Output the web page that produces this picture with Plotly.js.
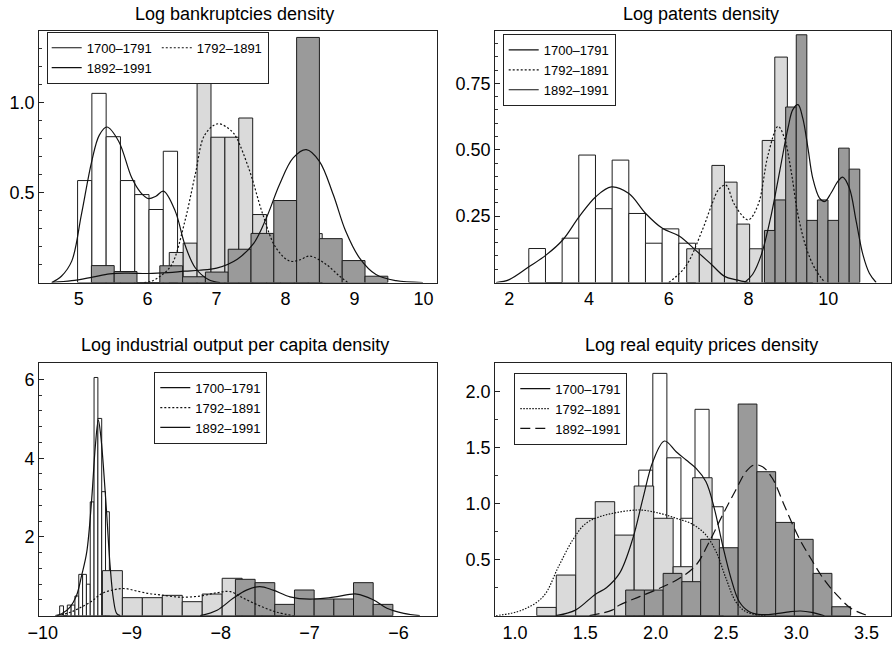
<!DOCTYPE html>
<html>
<head>
<meta charset="utf-8">
<script src="https://cdn.plot.ly/plotly-3.0.1.min.js"></script>
<style>html,body{margin:0;padding:0;background:#fff;}#chart{width:892px;height:647px;}</style>
</head>
<body>
<div id="chart"></div>
<script>
// ---------- data ----------
const seriesNames = ['1700\u20131791', '1792\u20131891', '1892\u20131991'];
const panelTitles = ['Log bankruptcies density', 'Log patents density',
  'Log industrial output per capita density', 'Log real equity prices density'];

// Panel 1: Log bankruptcies — histograms (bin start, bin width, density heights)
const bkStart1 = 4.985, bkWidth1 = 0.207;
const bkHeights1 = [0.567, 1.052, 0.811, 0.567, 0.489, 0.406, 0.730];
const bkStart2 = 6.314, bkWidth2 = 0.2015;
const bkHeights2 = [0.167, 0.219, 1.128, 0.808, 0.808, 0.915, 0.378, 0.2, 0.12, 0.1, 0.272];
const bkStart3 = 5.185, bkWidth3 = 0.3305;
const bkHeights3 = [0.094, 0.061, 0, 0.093, 0.032, 0.058, 0.185, 0.273, 0.456, 1.363, 0.244, 0.122, 0.035];
// Panel 1 density curves
const bkCurveX1 = [4.61, 4.75, 4.90, 5.04, 5.19, 5.30, 5.41, 5.58, 5.77, 5.90, 6.01, 6.12, 6.23, 6.40, 6.54, 6.69, 6.88, 7.05];
const bkCurveY1 = [0, 0.035, 0.119, 0.378, 0.674, 0.82, 0.865, 0.786, 0.582, 0.5, 0.467, 0.48, 0.508, 0.397, 0.211, 0.082, 0.017, 0];
const bkCurveX2 = [5.95, 6.06, 6.2, 6.35, 6.54, 6.69, 6.83, 7.02, 7.22, 7.29, 7.48, 7.67, 7.86, 8.06, 8.2, 8.35, 8.59, 8.78, 8.9];
const bkCurveY2 = [0, 0.008, 0.04, 0.1, 0.341, 0.6, 0.822, 0.883, 0.841, 0.804, 0.619, 0.378, 0.193, 0.119, 0.125, 0.147, 0.1, 0.036, 0];
const bkCurveX3 = [4.61, 4.9, 5.2, 5.45, 5.7, 6.01, 6.3, 6.54, 6.75, 7.0, 7.3, 7.54, 7.73, 7.91, 8.11, 8.30, 8.49, 8.69, 8.87, 9.07, 9.31, 9.6, 9.99];
const bkCurveY3 = [0, 0.01, 0.03, 0.048, 0.052, 0.05, 0.055, 0.063, 0.068, 0.08, 0.13, 0.219, 0.367, 0.544, 0.693, 0.739, 0.674, 0.489, 0.286, 0.137, 0.044, 0.01, 0];

// Panel 2: Log patents
const ptStart1 = 2.49, ptWidth1 = 0.418;
const ptHeights1 = [0.128, 0, 0.167, 0.48, 0.278, 0.461, 0.26, 0.148, 0.202, 0.148];
const ptStart2 = 6.45, ptWidth2 = 0.3155;
const ptHeights2 = [0.127, 0.127, 0.441, 0.378, 0.22, 0.127, 0.535, 0.849, 0.45, 0.13];
const ptStart3 = 8.40, ptWidth3 = 0.2655;
const ptHeights3 = [0.196, 0.311, 0.661, 0.933, 0.234, 0.311, 0.234, 0.506, 0.427];
const ptCurveX1 = [1.67, 2.0, 2.5, 2.92, 3.34, 3.75, 4.17, 4.56, 5.0, 5.42, 5.84, 6.26, 6.67, 7.09, 7.4, 7.7, 8.0];
const ptCurveY1 = [0, 0.011, 0.06, 0.103, 0.16, 0.247, 0.323, 0.36, 0.335, 0.26, 0.204, 0.175, 0.122, 0.065, 0.023, 0.01, 0];
const ptCurveX2 = [6.0, 6.42, 6.84, 7.09, 7.25, 7.43, 7.65, 7.99, 8.24, 8.49, 8.74, 8.90, 9.07, 9.24, 9.45, 9.66, 9.91];
const ptCurveY2 = [0, 0.06, 0.197, 0.298, 0.35, 0.367, 0.293, 0.236, 0.293, 0.481, 0.588, 0.544, 0.418, 0.255, 0.129, 0.054, 0];
const ptCurveX3 = [7.9, 8.1, 8.32, 8.57, 8.78, 8.99, 9.11, 9.24, 9.36, 9.49, 9.61, 9.78, 9.91, 10.07, 10.24, 10.36, 10.53, 10.70, 10.87, 11.03, 11.2];
const ptCurveY3 = [0, 0.03, 0.104, 0.255, 0.418, 0.582, 0.651, 0.67, 0.619, 0.506, 0.393, 0.318, 0.305, 0.337, 0.381, 0.397, 0.355, 0.23, 0.104, 0.035, 0];

// Panel 3: Log industrial output per capita
const ioStart1 = -9.811, ioWidth1 = 0.043;
const ioHeights1 = [0.25, 0, 0.27, 0.27, 0.5, 1.05, 1.05, 0.8, 2.89, 6.05, 5.01, 3.15, 2.64];
const ioStart2 = -9.33, ioWidth2 = 0.2245;
const ioHeights2 = [1.144, 0.458, 0.458, 0.517, 0.356, 0.55, 0.95, 0.45, 0.2];
const ioStart3 = -7.834, ioWidth3 = 0.2214;
const ioHeights3 = [0.924, 0.839, 0.288, 0.653, 0.424, 0.424, 0.839, 0.288];
const ioCurveX1 = [-9.86, -9.788, -9.694, -9.62, -9.563, -9.506, -9.45, -9.41, -9.376, -9.35, -9.32, -9.281, -9.244, -9.207, -9.169, -9.13];
const ioCurveY1 = [0, 0.05, 0.22, 0.52, 1.03, 1.62, 2.98, 4.3, 4.97, 4.6, 3.82, 2.55, 1.28, 0.43, 0.05, 0];
const ioCurveX2 = [-9.84, -9.7, -9.6, -9.45, -9.338, -9.2, -9.08, -8.95, -8.8, -8.68, -8.46, -8.23, -8.04, -7.89, -7.74, -7.56, -7.37, -7.18];
const ioCurveY2 = [0, 0.08, 0.18, 0.37, 0.56, 0.66, 0.69, 0.63, 0.56, 0.53, 0.47, 0.5, 0.585, 0.61, 0.44, 0.25, 0.09, 0];
const ioCurveX3 = [-8.23, -8.04, -7.86, -7.71, -7.56, -7.41, -7.22, -7.0, -6.73, -6.47, -6.28, -6.13, -5.94, -5.76];
const ioCurveY3 = [0, 0.14, 0.44, 0.65, 0.74, 0.65, 0.48, 0.42, 0.47, 0.55, 0.4, 0.19, 0.06, 0];

// Panel 4: Log real equity prices
const eqStart1 = 1.88, eqWidth1 = 0.1;
const eqHeights1 = [1.30, 2.164, 1.41, 0.87, 1.843, 0.973];
const eqStart2 = 1.155, eqWidth2 = 0.1385;
const eqHeights2 = [0.074, 0.363, 0.869, 1.018, 0.72, 1.158, 0.87, 0.4375, 1.232];
const eqStart3 = 1.787, eqWidth3 = 0.1333;
const eqHeights3 = [0.229, 0.229, 0.378, 0.304, 0.682, 0.607, 1.89, 1.286, 0.833, 0.682, 0.378, 0.08];
const eqCurveX1 = [1.29, 1.43, 1.57, 1.65, 1.744, 1.838, 1.91, 1.98, 2.063, 2.146, 2.217, 2.288, 2.358, 2.417, 2.476, 2.536, 2.595, 2.666, 2.75, 2.87, 2.95, 3.03, 3.11, 3.2];
const eqCurveY1 = [0, 0.05, 0.19, 0.25, 0.38, 0.69, 1.048, 1.375, 1.56, 1.464, 1.39, 1.316, 1.196, 0.959, 0.631, 0.334, 0.125, 0.036, 0.01, 0.02, 0.035, 0.042, 0.03, 0];
const eqCurveX2 = [0.865, 1.05, 1.2, 1.31, 1.41, 1.5, 1.602, 1.72, 1.886, 2.03, 2.146, 2.264, 2.358, 2.43, 2.5, 2.57, 2.642, 2.78];
const eqCurveY2 = [0, 0.05, 0.17, 0.44, 0.675, 0.82, 0.884, 0.92, 0.944, 0.914, 0.87, 0.816, 0.72, 0.571, 0.334, 0.125, 0.036, 0];
const eqCurveX3 = [1.53, 1.69, 1.744, 1.886, 2.028, 2.17, 2.288, 2.382, 2.476, 2.57, 2.642, 2.70, 2.76, 2.83, 2.92, 3.015, 3.11, 3.2, 3.3, 3.39, 3.51];
const eqCurveY3 = [0, 0.05, 0.096, 0.17, 0.245, 0.334, 0.453, 0.661, 0.899, 1.122, 1.286, 1.346, 1.33, 1.227, 0.97, 0.705, 0.497, 0.318, 0.17, 0.065, 0];

// Tick values / labels
const ticks1x = [5, 6, 7, 8, 9, 10], ticks1y = [0.5, 1.0], labels1y = ['0.5', '1.0'];
const ticks2x = [2, 4, 6, 8, 10], ticks2y = [0.25, 0.5, 0.75], labels2y = ['0.25', '0.50', '0.75'];
const ticks3x = [-10, -9, -8, -7, -6], ticks3y = [2, 4, 6], labels3y = ['2', '4', '6'];
const ticks4x = [1.0, 1.5, 2.0, 2.5, 3.0, 3.5], labels4x = ['1.0', '1.5', '2.0', '2.5', '3.0', '3.5'];
const ticks4y = [0.5, 1.0, 1.5, 2.0], labels4y = ['0.5', '1.0', '1.5', '2.0'];

// ---------- styling ----------
const FONT = 'Liberation Sans, Arial, Helvetica, sans-serif';
const FILLS = ['#ffffff', '#dadada', '#9a9a9a'];
const EDGE = '#1e1e1e';
const W = 892, H = 647;

function histTrace(start, width, heights, color, xa, ya) {
  return {
    type: 'bar',
    x: heights.map((h, i) => start + width * (i + 0.5)),
    y: heights,
    width: heights.map(() => width),
    marker: {color: color, line: {color: EDGE, width: 1}},
    xaxis: xa, yaxis: ya, showlegend: false, hoverinfo: 'skip'
  };
}
function curveTrace(x, y, name, dash, xa, ya, legend, group) {
  const t = {
    type: 'scatter', mode: 'lines', x: x, y: y, name: name,
    line: {color: '#111', width: 1.2, dash: dash, shape: 'spline', smoothing: 1},
    xaxis: xa, yaxis: ya, legend: legend, hoverinfo: 'skip'
  };
  if (group) t.legendgroup = group;
  return t;
}

const DOT = '2px,2px', FINEDOT = '1.5px,1.5px', LONGDASH = '10px,5px';

const data = [
  histTrace(bkStart1, bkWidth1, bkHeights1, FILLS[0], 'x', 'y'),
  histTrace(bkStart2, bkWidth2, bkHeights2, FILLS[1], 'x', 'y'),
  histTrace(bkStart3, bkWidth3, bkHeights3, FILLS[2], 'x', 'y'),
  curveTrace(bkCurveX1, bkCurveY1, seriesNames[0], 'solid', 'x', 'y', 'legend', 'a'),
  curveTrace(bkCurveX2, bkCurveY2, seriesNames[1], DOT, 'x', 'y', 'legend', 'b'),
  curveTrace(bkCurveX3, bkCurveY3, seriesNames[2], 'solid', 'x', 'y', 'legend', 'a'),

  histTrace(ptStart1, ptWidth1, ptHeights1, FILLS[0], 'x2', 'y2'),
  histTrace(ptStart2, ptWidth2, ptHeights2, FILLS[1], 'x2', 'y2'),
  histTrace(ptStart3, ptWidth3, ptHeights3, FILLS[2], 'x2', 'y2'),
  curveTrace(ptCurveX1, ptCurveY1, seriesNames[0], 'solid', 'x2', 'y2', 'legend2'),
  curveTrace(ptCurveX2, ptCurveY2, seriesNames[1], DOT, 'x2', 'y2', 'legend2'),
  curveTrace(ptCurveX3, ptCurveY3, seriesNames[2], 'solid', 'x2', 'y2', 'legend2'),

  histTrace(ioStart1, ioWidth1, ioHeights1, FILLS[0], 'x3', 'y3'),
  histTrace(ioStart2, ioWidth2, ioHeights2, FILLS[1], 'x3', 'y3'),
  histTrace(ioStart3, ioWidth3, ioHeights3, FILLS[2], 'x3', 'y3'),
  curveTrace(ioCurveX1, ioCurveY1, seriesNames[0], 'solid', 'x3', 'y3', 'legend3'),
  curveTrace(ioCurveX2, ioCurveY2, seriesNames[1], DOT, 'x3', 'y3', 'legend3'),
  curveTrace(ioCurveX3, ioCurveY3, seriesNames[2], 'solid', 'x3', 'y3', 'legend3'),

  histTrace(eqStart1, eqWidth1, eqHeights1, FILLS[0], 'x4', 'y4'),
  histTrace(eqStart2, eqWidth2, eqHeights2, FILLS[1], 'x4', 'y4'),
  histTrace(eqStart3, eqWidth3, eqHeights3, FILLS[2], 'x4', 'y4'),
  curveTrace(eqCurveX1, eqCurveY1, seriesNames[0], 'solid', 'x4', 'y4', 'legend4'),
  curveTrace(eqCurveX2, eqCurveY2, seriesNames[1], FINEDOT, 'x4', 'y4', 'legend4'),
  curveTrace(eqCurveX3, eqCurveY3, seriesNames[2], LONGDASH, 'x4', 'y4', 'legend4')
];

const colL = [39.3 / W, 436.7 / W], colR = [495.3 / W, 890.5 / W];
const rowT = [1 - 282.5 / H, 1 - 30.8 / H], rowB = [1 - 615.7 / H, 1 - 363.3 / H];

function xAxis(domain, range, tickvals, ticktext, anchor) {
  const a = {
    domain: domain, range: range, anchor: anchor,
    showline: true, mirror: true, linecolor: '#222', linewidth: 1.2,
    showgrid: false, zeroline: false, ticks: '',
    tickmode: 'array', tickvals: tickvals,
    tickfont: {family: FONT, size: 18, color: '#000'}, fixedrange: true
  };
  if (ticktext) a.ticktext = ticktext;
  return a;
}
function yAxis(domain, range, tickvals, ticktext, minorStep, anchor) {
  return {
    domain: domain, range: range, anchor: anchor,
    showline: true, mirror: true, linecolor: '#222', linewidth: 1.2,
    showgrid: false, zeroline: false,
    ticks: 'inside', ticklen: 5, tickwidth: 1, tickcolor: '#222',
    tickmode: 'array', tickvals: tickvals, ticktext: ticktext,
    minor: {tickmode: 'linear', tick0: 0, dtick: minorStep, ticks: 'inside', ticklen: 3, tickwidth: 1, tickcolor: '#333', showgrid: false},
    tickfont: {family: FONT, size: 18, color: '#000'}, fixedrange: true
  };
}
function legendBox(x, y, orientation, order) {
  return {
    x: x, y: y, xanchor: 'left', yanchor: 'top', xref: 'paper', yref: 'paper',
    orientation: orientation, traceorder: order,
    bgcolor: '#fff', bordercolor: '#222', borderwidth: 1,
    font: {family: FONT, size: 13, color: '#000'}, itemwidth: 30, tracegroupgap: 0
  };
}
function titleAnn(text, x, y) {
  return {text: text, x: x, y: y, xref: 'paper', yref: 'paper', xanchor: 'center', yanchor: 'middle',
    showarrow: false, font: {family: FONT, size: 18, color: '#000'}};
}

const layout = {
  width: W, height: H,
  margin: {l: 0, r: 0, t: 0, b: 0, pad: 0},
  paper_bgcolor: '#fff', plot_bgcolor: '#fff',
  barmode: 'overlay', bargap: 0,
  font: {family: FONT, color: '#000'},
  showlegend: true,
  xaxis: xAxis(colL, [4.43, 10.19], ticks1x, null, 'y'),
  yaxis: yAxis(rowT, [0, 1.40], ticks1y, labels1y, 0.1, 'x'),
  xaxis2: xAxis(colR, [1.65, 11.56], ticks2x, null, 'y2'),
  yaxis2: yAxis(rowT, [0, 0.948], ticks2y, labels2y, 0.05, 'x2'),
  xaxis3: xAxis(colL, [-10.04, -5.57], ticks3x, null, 'y3'),
  yaxis3: yAxis(rowB, [0, 6.41], ticks3y, labels3y, 0.4, 'x3'),
  xaxis4: xAxis(colR, [0.86, 3.67], ticks4x, labels4x, 'y4'),
  yaxis4: yAxis(rowB, [0, 2.254], ticks4y, labels4y, 0.25, 'x4'),
  legend: legendBox(46.7 / W, 1 - 31.8 / H, 'h', 'grouped'),
  legend2: legendBox(502.7 / W, 1 - 34 / H, 'v', 'normal'),
  legend3: legendBox(154.3 / W, 1 - 371.7 / H, 'v', 'normal'),
  legend4: legendBox(514.3 / W, 1 - 372.7 / H, 'v', 'normal'),
  annotations: [
    titleAnn(panelTitles[0], 234.5 / W, 1 - 14 / H),
    titleAnn(panelTitles[1], 700.5 / W, 1 - 14 / H),
    titleAnn(panelTitles[2], 235 / W, 1 - 344.5 / H),
    titleAnn(panelTitles[3], 701 / W, 1 - 344.5 / H)
  ]
};

Plotly.newPlot('chart', data, layout, {staticPlot: true, displayModeBar: false});
</script>
</body>
</html>
